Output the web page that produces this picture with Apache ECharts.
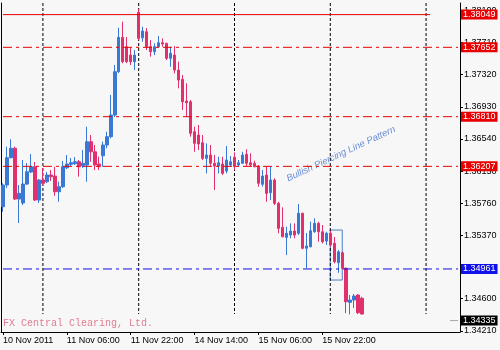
<!DOCTYPE html>
<html>
<head>
<meta charset="utf-8">
<script src="https://cdn.jsdelivr.net/npm/echarts@6/dist/echarts.min.js"></script>
<style>
html,body{margin:0;padding:0;background:#f7f7f7;}
#c{width:500px;height:350px;}
</style>
</head>
<body>
<div id="c"></div>
<script>
// ---- data (H1 candles) ----
const opens = [1.35717,1.35980,1.36312,1.36426,1.35810,1.35762,1.35992,1.36138,1.36202,1.35798,
1.36041,1.36020,1.36102,1.36089,1.35899,1.35960,1.36190,1.36231,1.36239,1.36263,
1.36214,1.36223,1.36506,1.36384,1.36235,1.36336,1.36466,1.36567,1.36830,1.37356,
1.37773,1.37659,1.37558,1.37477,1.38077,1.37768,1.37841,1.37659,1.37598,1.37659,
1.37708,1.37700,1.37518,1.37558,1.37376,1.37263,1.37000,1.36991,1.36627,1.36587,
1.36494,1.36304,1.36344,1.36244,1.36211,1.36235,1.36150,1.36223,1.36316,1.36223,
1.36244,1.36353,1.36251,1.36244,1.36211,1.35989,1.36102,1.35887,1.36041,1.35758,
1.35467,1.35345,1.35373,1.35422,1.35394,1.35637,1.35212,1.35231,1.35413,1.35515,
1.35413,1.35300,1.35394,1.35272,1.35037,1.35158,1.34969,1.34556,1.34584,1.34645,
1.34605];
const highs = [1.36001,1.36445,1.36535,1.36445,1.35980,1.36284,1.36247,1.36356,1.36259,1.36053,
1.36187,1.36138,1.36162,1.36202,1.36020,1.36272,1.36344,1.36308,1.36320,1.36284,
1.36405,1.36688,1.36587,1.36466,1.36324,1.36506,1.36627,1.37073,1.37437,1.37890,
1.37963,1.37777,1.37655,1.37619,1.38117,1.37902,1.37886,1.37740,1.37700,1.37789,
1.37761,1.37708,1.37659,1.37668,1.37477,1.37316,1.37215,1.37012,1.36688,1.36709,
1.36587,1.36486,1.36466,1.36344,1.36324,1.36324,1.36454,1.36332,1.36377,1.36284,
1.36384,1.36414,1.36365,1.36275,1.36223,1.36162,1.36202,1.36202,1.36061,1.35777,
1.35709,1.35474,1.35515,1.35515,1.35749,1.35644,1.35397,1.35535,1.35576,1.35535,
1.35495,1.35413,1.35422,1.35349,1.35191,1.35170,1.34981,1.34645,1.34657,1.34653,
1.34624];
const lows = [1.35656,1.35944,1.36304,1.35798,1.35519,1.35737,1.35980,1.36126,1.35786,1.35762,
1.35980,1.36004,1.36029,1.35850,1.35777,1.35944,1.36174,1.36211,1.36223,1.36081,
1.36187,1.36020,1.36263,1.36162,1.36162,1.36202,1.36426,1.36547,1.36806,1.37340,
1.37458,1.37461,1.37437,1.37376,1.37740,1.37720,1.37619,1.37538,1.37558,1.37652,
1.37659,1.37498,1.37416,1.37336,1.37154,1.36891,1.36809,1.36567,1.36384,1.36405,
1.36284,1.36122,1.36202,1.35919,1.36122,1.36102,1.36122,1.36202,1.36162,1.36202,
1.36235,1.36202,1.36202,1.36195,1.35960,1.35960,1.35777,1.35798,1.35737,1.35394,
1.35345,1.35130,1.35333,1.35333,1.35373,1.35200,1.34969,1.35224,1.35401,1.35292,
1.35272,1.35252,1.35231,1.35030,1.34915,1.34957,1.34426,1.34410,1.34487,1.34414,
1.34410];
const closes = [1.35980,1.36312,1.36426,1.35810,1.35879,1.35992,1.36142,1.36202,1.35798,1.36041,
1.36001,1.36102,1.36081,1.35899,1.35960,1.36202,1.36235,1.36251,1.36263,1.36202,
1.36244,1.36506,1.36384,1.36223,1.36202,1.36466,1.36567,1.36830,1.37356,1.37773,
1.37477,1.37477,1.37477,1.37558,1.37761,1.37850,1.37659,1.37598,1.37659,1.37708,
1.37692,1.37518,1.37579,1.37376,1.37255,1.36991,1.36979,1.36608,1.36486,1.36478,
1.36304,1.36344,1.36244,1.36211,1.36251,1.36122,1.36284,1.36263,1.36202,1.36251,
1.36344,1.36244,1.36223,1.36202,1.36001,1.36089,1.35879,1.36041,1.35758,1.35454,
1.35353,1.35394,1.35422,1.35373,1.35637,1.35212,1.35240,1.35425,1.35515,1.35413,
1.35292,1.35394,1.35252,1.35049,1.35170,1.34969,1.34563,1.34584,1.34633,1.34430,
1.34414];

// time-axis labels, one every 16 bars
const timeLabels = ['10 Nov 2011','11 Nov 06:00','11 Nov 22:00','14 Nov 14:00','15 Nov 06:00','15 Nov 22:00'];
const labelStep = 16;
const totalBars = 115;           // visible slots incl. empty space on the right
const gridBars = [10, 34, 58, 82, 106];   // vertical dotted grid
// price-axis ticks
const priceTicks = [1.34210,1.34600,1.34980,1.35370,1.35760,1.36150,1.36540,1.36930,1.37320,1.37710,1.38100];
// horizontal levels
const redLevels = [1.37652, 1.36810, 1.36207];
const blueLevel = 1.34961;
const topLevel = 1.38049;
const topLevelEndBar = 107;
const lastPrice = 1.34335;
// pattern box (bars and price range)
const boxBars = [82, 85];
const boxPrices = [1.35434, 1.34827];
const yMin = 1.34196, yMax = 1.38190;
const gridLineLow = 1.34414;

const categories = [];
for (let i = 0; i < totalBars; i++) categories.push(String(i));
const candles = opens.map((o, i) => [o, closes[i], lows[i], highs[i]]);

const FONT = '"Liberation Sans", Arial, sans-serif';
const BULL = '#3a78d6', BEAR = '#e2306f', RED = '#e80000', BLUE = '#1010e8';
const DASHDOT = [9, 4, 3, 4];
const firstCat = categories[0], lastCat = categories[totalBars - 1];

function endLabel(txt, bg) {
  return { show: true, distance: 3, formatter: txt, color: '#fff',
    backgroundColor: bg, padding: [1, 2, 0, 2], fontSize: 9, fontFamily: FONT };
}
function levelSeries(points, color, type, label, z) {
  return {
    type: 'line', data: points, symbol: 'none', silent: true, animation: false, z: z || 3,
    lineStyle: { color: color, width: 1, type: type },
    endLabel: label || { show: false }
  };
}

const series = [{
  type: 'candlestick', data: candles, barWidth: 3, silent: true, z: 2,
  itemStyle: { color: BULL, color0: BEAR, borderColor: BULL, borderColor0: BEAR, borderWidth: 1 },
  markArea: { silent: true, itemStyle: { color: 'rgba(0,0,0,0)', borderColor: '#4a7cc8', borderWidth: 1 },
    label: { show: false },
    data: [[{ coord: [categories[boxBars[0]], boxPrices[0]] }, { coord: [categories[boxBars[1]], boxPrices[1]] }]] }
}];
gridBars.forEach(b => series.push(levelSeries([[categories[b], yMax], [categories[b], gridLineLow]], '#000', [3, 2], null, 1)));
redLevels.forEach(v => series.push(levelSeries([[firstCat, v], [lastCat, v]], RED, DASHDOT, endLabel(v.toFixed(5), RED))));
series.push(levelSeries([[firstCat, blueLevel], [lastCat, blueLevel]], BLUE, DASHDOT, endLabel(blueLevel.toFixed(5), BLUE)));
series.push(levelSeries([[firstCat, topLevel], [categories[topLevelEndBar], topLevel]], RED, 'solid'));
series.push(levelSeries([[lastCat, topLevel], [lastCat, topLevel]], 'rgba(0,0,0,0)', 'solid', endLabel(topLevel.toFixed(5), RED)));
series.push(levelSeries([[categories[112], lastPrice], [lastCat, lastPrice]], '#a8a8a8', 'solid', endLabel(lastPrice.toFixed(5), '#000')));

const chart = echarts.init(document.getElementById('c'), null, { renderer: 'canvas' });
chart.setOption({
  animation: false,
  backgroundColor: '#f7f7f7',
  grid: { left: 1, right: 40, top: 3, bottom: 18, show: false },
  xAxis: {
    type: 'category', data: categories, boundaryGap: true,
    axisLine: { show: true, lineStyle: { color: '#000', width: 1 } },
    axisTick: { show: true, alignWithLabel: true, length: 3, lineStyle: { color: '#000' },
      interval: (idx) => idx % labelStep === 0 && idx / labelStep < timeLabels.length },
    axisLabel: { show: true, align: 'left', margin: 4, fontSize: 9, fontFamily: FONT, color: '#000',
      interval: (idx) => idx % labelStep === 0 && idx / labelStep < timeLabels.length,
      formatter: (v, idx) => timeLabels[idx / labelStep] || '' },
    splitLine: { show: false }
  },
  yAxis: [{
    type: 'value', position: 'right', min: yMin, max: yMax,
    axisLine: { show: true, lineStyle: { color: '#000', width: 1 } },
    axisTick: { show: true, length: 3, lineStyle: { color: '#000' }, customValues: priceTicks },
    axisLabel: { show: true, margin: 4, fontSize: 9, fontFamily: FONT, color: '#000',
      customValues: priceTicks, formatter: v => v.toFixed(5) },
    splitLine: { show: false }
  }, {
    type: 'value', position: 'left', min: yMin, max: yMax,
    axisLine: { show: true, onZero: false, lineStyle: { color: '#000', width: 1 } },
    axisTick: { show: false }, axisLabel: { show: false }, splitLine: { show: false }
  }],
  graphic: [
    { type: 'text', left: 3, top: 318, silent: true,
      style: { text: 'FX Central Clearing, Ltd.', font: '10px "Liberation Mono", monospace', fill: '#e07d91' } },
    { type: 'text', x: 341, y: 154, rotation: 25 * Math.PI / 180, silent: true,
      style: { text: 'Bullish Piercing Line Pattern', font: 'italic 9.5px ' + FONT, fill: '#6a8fd4',
        align: 'center', verticalAlign: 'middle' } }
  ],
  series: series
});
</script>
</body>
</html>
